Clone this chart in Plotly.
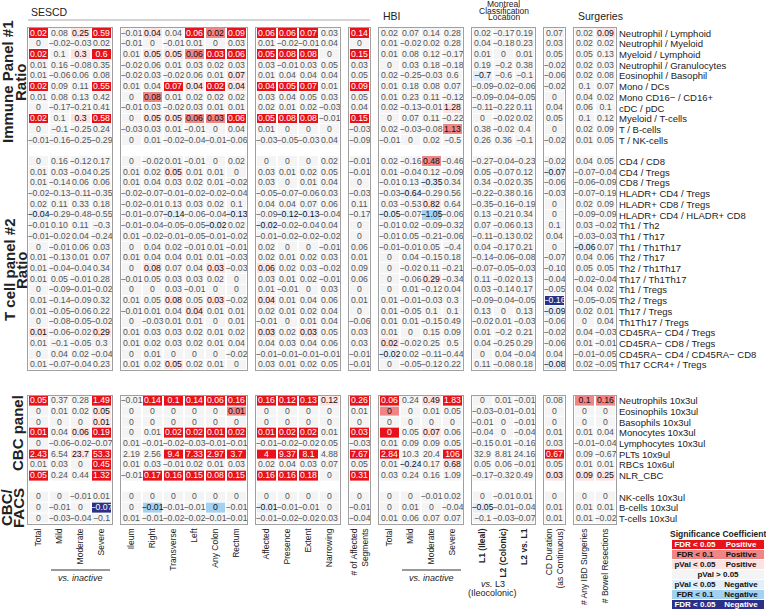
import plotly.graph_objects as go

# ---------------- data ----------------
group_sizes = [4, 6, 4, 1, 4, 3, 1, 2]
col_labels = ["Total", "Mild", "Moderate", "Severe",
              "Ileum", "Right", "Transverse", "Left", "Any Colon", "Rectum",
              "Affected", "Presence", "Extent", "Narrowing",
              "# of Affected<br>Segments",
              "Total", "Mild", "Moderate", "Severe",
              "<b>L1 (Ileal)</b>", "<b>L2 (Colonic)</b>", "<b>L2 vs. L1</b>",
              "CD Duration<br>(as Continuous)",
              "# Any IBD Surgeries", "# Bowel Resections"]

immune_labels = ["Neutrophil / Lymphoid", "Neutrophil / Myeloid", "Myeloid / Lymphoid",
                 "Neutrophil / Granulocytes", "Eosinophil / Basophil", "Mono / DCs",
                 "Mono CD16− / CD16+", "cDC / pDC", "Myeloid / T-cells", "T / B-cells",
                 "T / NK-cells"]
immune_values = [
    "0.02 0.08 0.25 0.59 | -0.01 0.04 0.04 0.06 0.02 0.09 | 0.06 0.06 0.07 0.03 | 0.14 | 0.02 0.07 0.14 0.28 | 0.02 -0.17 0.19 | 0.07 | 0.02 0.09",
    "0 -0.02 -0.03 0.02 | -0.01 0 -0.01 0.01 0 0.03 | 0.01 -0.02 -0.01 0.04 | 0 | 0.01 -0.02 0.02 0.28 | 0.04 -0.18 0.23 | 0.03 | 0.02 0.02",
    "0.02 0.1 0.3 0.6 | 0.01 0.05 0.05 0.06 0.03 0.06 | 0.05 0.08 0.08 0 | 0.15 | 0.01 0.08 0.12 -0.17 | 0.01 0 0.01 | 0.05 | 0.05 0.13",
    "0.01 0.16 -0.08 0.35 | -0.02 0.06 0.01 0.03 0.02 0.03 | 0.03 -0.01 0.03 0.05 | 0.03 | 0 0.03 0.18 -0.18 | 0.19 -0.2 0.38 | -0.02 | 0.02 0.03",
    "0.01 -0.06 0.06 0.08 | -0.02 0.03 -0.02 0.06 0.01 0.07 | 0.01 0.04 0.04 0.04 | 0.05 | 0.02 -0.25 -0.03 0.6 | -0.7 -0.6 -0.1 | -0.06 | 0.02 0.08",
    "0.02 0.09 0.11 0.55 | 0.01 0.04 0.07 0.04 0.02 0.04 | 0.04 0.05 0.07 0.01 | 0.09 | 0.01 0.18 0.08 0.07 | -0.09 -0.02 -0.06 | -0.02 | 0.1 0.07",
    "0.01 0.08 0.13 0.42 | 0 0.08 0.01 0.02 0.02 0.02 | 0.03 0.04 0.05 0.03 | 0.05 | 0.01 0.23 0.11 -0.12 | -0.09 -0.04 -0.05 | 0 | 0.04 0.02",
    "0 -0.17 -0.21 0.41 | -0.01 0.03 -0.02 0.03 0.01 0.01 | 0.02 0.01 0.02 -0.03 | 0.04 | 0.02 -0.13 -0.01 1.28 | -0.11 -0.22 0.11 | 0.04 | 0.06 0.1",
    "0.02 0.1 0.3 0.58 | 0 0.05 0.05 0.06 0.03 0.06 | 0.05 0.08 0.08 -0.01 | 0.15 | 0 0.07 0.11 -0.22 | 0 -0.02 0.02 | 0.05 | 0.1 0.12",
    "0 -0.1 -0.25 0.24 | -0.03 0.03 0.01 -0.01 0 0.04 | 0.01 0 0 0 | -0.03 | 0.02 -0.03 -0.08 1.13 | 0.38 -0.02 0.4 | 0 | 0.02 0.09",
    "-0.01 -0.16 -0.25 -0.29 | 0 0.01 -0.02 -0.04 -0.01 -0.06 | -0.03 -0.05 -0.03 0.04 | -0.09 | -0.01 0 0.02 -0.5 | 0.26 0.36 -0.1 | -0.02 | 0.01 0.05",
]
# significance: F FDR<0.05+, f FDR<0.1+, p pVal<0.05+, . n.s., n pVal<0.05-, b FDR<0.1-, B FDR<0.05-
immune_sig = [
    "F.pF .p.FfF FFF. F .... ... . .p",
    ".... ...... .... . .... ... . ..",
    "F.pF .ppfFF FFF. F .... ... . ..",
    ".... ...... .... . .... ... . ..",
    ".... .....p .... . .... n.. . ..",
    "F..F ..FpFp FFF. F .... ... . ..",
    ".... .f.... .... . .... ... . ..",
    ".... ...... .... . ...p ... . ..",
    "F.pF .ppffF FFF. F .... ... . ..",
    ".... ...... .... . ...f ... . ..",
    ".... ...... .... . .... ... . ..",
]

tcell_labels = ["CD4 / CD8", "CD4 / Tregs", "CD8 / Tregs", "HLADR+ CD4 / Tregs",
                "HLADR+ CD8 / Tregs", "HLADR+ CD4 / HLADR+ CD8", "Th1 / Th2", "Th1 / Th17",
                "Th1 / Th1Th17", "Th2 / Th17", "Th2 / Th1Th17", "Th17 / Th1Th17",
                "Th1 / Tregs", "Th2 / Tregs", "Th17 / Tregs", "Th1Th17 / Tregs",
                "CD45RA− CD4 / Tregs", "CD45RA− CD8 / Tregs", "CD45RA− CD4 / CD45RA− CD8",
                "Th17 CCR4+ / Tregs"]
tcell_values = [
    "0 0.16 -0.12 0.17 | 0 -0.02 0.01 -0.01 0 0.02 | 0 0 0 0.02 | -0.01 | 0.02 -0.16 0.48 -0.46 | -0.27 -0.04 -0.23 | -0.02 | 0.04 0.05",
    "0.01 0.03 -0.04 0.25 | 0.01 0.02 0.05 0.01 0.01 0 | 0.03 0.01 0.02 0.05 | -0.01 | 0.01 -0.04 0.12 -0.09 | 0.05 -0.07 0.12 | -0.07 | -0.07 -0.04",
    "0.01 -0.14 0.06 0.06 | 0.01 0.04 0.03 0.02 0.01 -0.02 | 0.03 0 0.01 0.04 | 0 | -0.01 0.13 -0.35 0.34 | 0.34 -0.02 0.35 | -0.06 | -0.06 -0.09",
    "-0.02 -0.13 -0.11 -0.35 | -0.02 -0.07 -0.01 -0.02 -0.02 -0.04 | -0.05 -0.07 -0.06 0.03 | -0.03 | -0.03 -0.64 -0.29 0.56 | -0.22 -0.38 0.16 | -0.03 | -0.07 -0.19",
    "0.02 0.11 0.33 0.18 | -0.02 -0.01 0.13 0.03 0.02 0.1 | 0.04 0.04 0.07 0.06 | 0.11 | 0.03 -0.53 0.82 0.64 | -0.35 -0.16 -0.19 | 0 | 0.02 0.09",
    "-0.04 -0.29 -0.48 -0.55 | -0.01 -0.07 -0.14 -0.06 -0.04 -0.13 | -0.09 -0.12 -0.13 -0.04 | -0.17 | -0.05 -0.07 -1.05 -0.06 | 0.13 -0.21 0.34 | 0 | -0.09 -0.09",
    "-0.01 0.10 0.11 -0.3 | -0.01 -0.04 -0.05 -0.05 -0.02 0.02 | -0.02 -0.02 -0.04 0.04 | 0 | -0.01 0.02 -0.09 -0.32 | 0.07 -0.06 0.13 | 0.1 | 0.03 -0.02",
    "-0.01 -0.02 0.04 -0.24 | 0.01 -0.02 -0.01 -0.05 -0.01 -0.02 | -0.01 -0.02 -0.02 -0.02 | 0 | -0.01 0.05 -0.21 -0.06 | -0.11 -0.13 0.02 | 0.04 | -0.03 -0.03",
    "0 -0.01 0.06 0.03 | 0 0.04 0.02 -0.01 0.01 -0.01 | 0.02 0 0 -0.01 | 0.06 | -0.01 -0.01 0.05 -0.4 | 0.04 -0.17 0.21 | 0 | -0.06 0.07",
    "0.01 -0.13 0.01 0.07 | 0.01 0.04 0.04 0.01 0.01 -0.03 | 0.02 0.01 0.02 0.03 | 0.01 | 0 0.04 -0.15 0.18 | -0.14 -0.06 -0.08 | -0.07 | 0.04 0.06",
    "0.01 -0.04 -0.04 0.34 | 0 0.08 0.07 0.04 0.03 -0.03 | 0.06 0.02 0.03 -0.02 | 0.09 | 0 -0.02 0.11 -0.21 | -0.07 -0.05 -0.03 | -0.10 | 0.05 0.05",
    "0.01 0.05 -0.01 0.28 | -0.01 0.05 0.03 0.03 0.02 0 | 0.03 0.01 0.02 -0.01 | 0.06 | 0 -0.06 0.29 -0.34 | 0.11 -0.02 0.13 | -0.04 | -0.02 -0.04",
    "0 -0.09 -0.01 -0.02 | 0 0 0.03 -0.01 0 0 | 0.01 -0.01 0 0.03 | 0 | 0 0.01 -0.12 0.04 | 0.03 -0.14 0.17 | -0.05 | 0.04 0.02",
    "0.01 -0.14 -0.09 0.32 | 0.01 0.05 0.08 0.05 0.03 -0.02 | 0.04 0.01 0.04 0.06 | 0.01 | 0.01 -0.01 -0.03 0.3 | -0.09 -0.04 -0.05 | -0.16 | -0.05 -0.05",
    "0.01 -0.05 -0.06 0.22 | -0.01 0.01 0.04 0.04 0.01 0.01 | 0.02 0.01 0.02 0.04 | 0 | 0.01 -0.05 0.1 0.1 | 0.13 0 0.13 | -0.09 | 0.02 0.01",
    "0 -0.08 -0.05 -0.02 | 0 -0.03 0.01 0.01 0 0.01 | -0.01 0 0.01 0.04 | -0.06 | 0.01 0.01 -0.15 0.49 | -0.02 0.01 -0.03 | -0.06 | 0 0.04",
    "0.01 -0.06 -0.02 0.29 | 0.01 0.03 0.03 0.02 0.01 0.02 | 0.03 0.02 0.03 0.05 | 0.03 | 0.01 0 0.15 0.09 | 0.01 -0.2 0.21 | -0.02 | 0.04 -0.03",
    "0.01 -0.1 -0.05 0.3 | 0.01 0.02 0.03 0.02 0.01 0.04 | 0.04 0.03 0.04 0.06 | 0.03 | 0.02 -0.02 0.25 0.5 | 0.04 -0.25 0.29 | -0.06 | 0.01 -0.01",
    "0 0.04 0.02 -0.04 | 0 0.01 0 0 0 -0.02 | -0.01 -0.01 -0.01 -0.01 | -0.01 | -0.02 0.02 -0.11 -0.44 | 0 0.04 -0.04 | 0.04 | -0.01 -0.05",
    "0.01 -0.07 -0.04 0.23 | 0.01 0.02 0.05 0.02 0.01 0 | 0.03 0.01 0.02 0.05 | -0.01 | 0 -0.05 -0.12 0.22 | 0.11 -0.08 0.18 | -0.08 | 0.02 -0.05",
]
tcell_sig = [
    ".... ...... .... . ..f. ... . ..",
    ".... ..p... .... . .... ... n ..",
    ".... ...... .... . ..n. ... . ..",
    ".... ...... .... . .n.. ... . ..",
    ".... ...... .... . ..p. ... . ..",
    "n... ..n..n .nn. . n.b. ... . ..",
    ".... ....n. n... . .... ... . ..",
    ".... ...... .... . .... ... . ..",
    ".... ...... .... . .... ... . n.",
    ".... ...... .... . .... ... . ..",
    ".... .p..p. p... . .... ... . ..",
    ".... ...... .... . ..p. ... . ..",
    ".... ...... .... . .... ... . ..",
    ".... ..p.p. p... . .... ... B ..",
    ".... ...p.. .... . .... ... n ..",
    ".... ...... .... . .... ... . ..",
    "p..p ...... p.p. . .... ... . ..",
    ".... ...... .... . p... ... . ..",
    ".... ...... .... . n... ... . ..",
    ".... ..p... .... . .... ... n ..",
]

cbc_labels = ["Neutrophils 10x3ul", "Eosinophils 10x3ul", "Basophils 10x3ul",
              "Monocytes 10x3ul", "Lymphocytes 10x3ul", "PLTs 10x9ul", "RBCs 10x6ul",
              "NLR_CBC"]
cbc_values = [
    "0.05 0.37 0.28 1.49 | -0.01 0.14 0.1 0.14 0.06 0.16 | 0.16 0.12 0.13 0.12 | 0.26 | 0.06 0.24 0.49 1.83 | 0 0.01 -0.01 | 0.08 | 0.1 0.16",
    "0 0.01 0.02 0.05 | 0 0 0 0 0 0.01 | 0 0 0 0 | 0.01 | 0 0 0.01 0.05 | -0.03 -0.01 -0.01 | 0 | 0 0",
    "0 0 0 0.01 | 0 0 0 0 0 0 | 0 0 0 0 | 0 | 0 0 0 0 | -0.01 0 -0.01 | 0 | 0 0",
    "0.01 0.04 0.06 0.19 | 0 0.01 0.02 0.02 0.01 0.02 | 0.01 0.02 0.02 0.01 | 0.03 | 0 0.05 0.07 0.06 | -0.04 0 -0.04 | 0.01 | 0.01 0.04",
    "0 -0.06 -0.02 -0.07 | 0.01 -0.01 -0.02 -0.03 -0.01 -0.01 | -0.01 -0.02 -0.02 0.05 | -0.03 | 0.01 0.09 0.09 0.05 | -0.15 0.01 -0.16 | 0.03 | -0.01 -0.04",
    "2.43 6.54 23.7 53.3 | 2.19 2.56 9.4 7.33 2.97 3.7 | 4 9.37 8.1 4.88 | 7.67 | 2.84 10.3 20.4 106 | 32.9 8.81 24.16 | 0.67 | 0.09 -0.67",
    "0.01 0.03 0 0.45 | 0.01 0.03 -0.01 0.02 0.01 0.03 | 0.02 0.04 0.03 0.07 | 0.05 | 0.01 -0.24 0.17 0.68 | 0.05 0.06 -0.01 | 0.05 | 0.01 0.01",
    "0.05 0.24 0.44 1.32 | -0.01 0.17 0.16 0.15 0.08 0.15 | 0.16 0.16 0.18 0 | 0.31 | 0.03 0.24 0.16 1.09 | -0.17 -0.32 0.49 | 0.03 | 0.09 0.25",
]
cbc_sig = [
    "F..F .FFFFF FFFp F F.pF ... . ff",
    "...p .....f .... . f... ... . ..",
    "...p ...... .... . .... ... . ..",
    "F.pF ..FFFF FFF. F F.p. ... . ..",
    ".... ...... .... . .... ... . ..",
    "F.pF ..FFFF FFF. F F..F ... F ..",
    "...F ...... .... . .n.p ... . ..",
    "F..F .FFFFF FFF. F .... ... p pp",
]

facs_labels = ["NK-cells 10x3ul", "B-cells 10x3ul", "T-cells 10x3ul"]
facs_values = [
    "0 0 -0.01 0.01 | 0 0 0 0 0 0 | 0 0 0 0 | 0 | 0 0 -0.01 0.02 | 0 -0.01 0.01 | 0 | 0 0",
    "0 -0.01 0 -0.07 | 0 -0.01 -0.01 -0.01 0 -0.01 | -0.01 -0.01 -0.01 0 | -0.01 | 0 0.01 0 -0.04 | -0.05 -0.01 -0.04 | 0.01 | 0.01 0.01",
    "0 -0.03 -0.04 -0.1 | 0.01 -0.01 -0.02 -0.02 -0.01 -0.01 | -0.01 -0.02 -0.02 0.03 | -0.04 | 0.01 0.06 0.07 0.07 | -0.1 -0.03 -0.07 | 0.01 | 0.01 -0.02",
]
facs_sig = [
    ".... ...... .... . .... ... . ..",
    "...B .b..b. n... . .... n.. . ..",
    ".... ...... .... . .... ... . ..",
]

legend_codes = "Ffp.nbB"
legend_left = ["FDR < 0.05", "FDR < 0.1", "pVal < 0.05", "pVal > 0.05", "pVal < 0.05", "FDR < 0.1", "FDR < 0.05"]
legend_right = ["Positive", "Positive", "Positive", "", "Negative", "Negative", "Negative"]

# ---------------- styling ----------------
code_index = {"B": 0, "b": 1, "n": 2, ".": 3, "p": 4, "f": 5, "F": 6}
cell_colors = ["#2b3086", "#a3d1f2", "#e2eef9", "#f4f4f4", "#fde2e2", "#ef8585", "#e8121a"]
colorscale = []
for i, c in enumerate(cell_colors):
    colorscale.append([i / 7, c])
    colorscale.append([(i + 1) / 7, c])


def text_color(k):
    if k in (0, 6):
        return "white"
    if k == 3:
        return "#555555"
    return "#111111"


def parse_values(rows):
    vals, texts = [], []
    for r in rows:
        toks = r.replace("|", " ").split()
        vals.append([float(t) for t in toks])
        texts.append([t.replace("-", "−") for t in toks])
    return vals, texts


def parse_sig(rows):
    return [[code_index[ch] for ch in r.replace(" ", "")] for r in rows]


def build_block(panels):
    vals, texts, codes, labels = [], [], [], []
    for i, (lab, v, s) in enumerate(panels):
        if i > 0:
            vals.append(None); texts.append(None); codes.append(None); labels.append(None)
        pv, pt = parse_values(v)
        vals += pv; texts += pt; codes += parse_sig(s); labels += lab
    return vals, texts, codes, labels


blocks = [
    build_block([(immune_labels, immune_values, immune_sig), (tcell_labels, tcell_values, tcell_sig)]),
    build_block([(cbc_labels, cbc_values, cbc_sig), (facs_labels, facs_values, facs_sig)]),
]

W, H = 766, 616
ML, MR, MT, MB = 28, 2, 28, 2
PW, PH = W - ML - MR, H - MT - MB
CW, GW, RH = 21, 9, 10.7
block_tops = [28, 28 + 32 * RH + 25.2]


def fx(sx):
    return (sx - ML) / PW


def fy(sy):
    return (H - MB - sy) / PH


group_starts = []
acc = 28
for n in group_sizes:
    group_starts.append(acc)
    acc += n * CW + GW

FONT = "Liberation Sans, Arial, sans-serif"
fig = go.Figure()
layout = {}
ax = 0
col0 = 0
col_offsets = []
for n in group_sizes:
    col_offsets.append(col0)
    col0 += n

for b, (vals, texts, codes, labels) in enumerate(blocks):
    nrows = len(vals)
    top = block_tops[b]
    bottom = top + nrows * RH
    for g, n in enumerate(group_sizes):
        ax += 1
        c0 = col_offsets[g]
        z, tx, ty, tt, tc = [], [], [], [], []
        for r in range(nrows):
            if codes[r] is None:
                z.append([None] * n)
                continue
            z.append(codes[r][c0:c0 + n])
            for j in range(n):
                tx.append(j); ty.append(r)
                tt.append(texts[r][c0 + j])
                tc.append(text_color(codes[r][c0 + j]))
        xs = "x" if ax == 1 else f"x{ax}"
        ys = "y" if ax == 1 else f"y{ax}"
        fig.add_trace(go.Heatmap(z=z, x=list(range(n)), y=list(range(nrows)),
                                 colorscale=colorscale, zmin=-0.5, zmax=6.5, showscale=False,
                                 xgap=2, ygap=1, hoverinfo="skip", xaxis=xs, yaxis=ys))
        fig.add_trace(go.Scatter(x=tx, y=ty, text=tt, mode="text", textposition="middle center",
                                 textfont=dict(size=8.7, color=tc, family=FONT),
                                 hoverinfo="skip", showlegend=False, xaxis=xs, yaxis=ys))
        xa = dict(domain=[fx(group_starts[g]), fx(group_starts[g] + n * CW)],
                  range=[-0.5, n - 0.5], anchor=ys, showgrid=False, zeroline=False,
                  showline=True, mirror=True, linecolor="#a0a0a0", linewidth=1.2,
                  ticks="", fixedrange=True)
        if b == 1:
            xa.update(tickvals=list(range(n)), ticktext=col_labels[c0:c0 + n], tickangle=-90,
                      tickfont=dict(size=8.5, color="#222", family=FONT), showticklabels=True)
        else:
            xa.update(showticklabels=False)
        ya = dict(domain=[fy(bottom), fy(top)], range=[nrows - 0.5, -0.5], anchor=xs,
                  showgrid=False, zeroline=False, showline=True, mirror=True,
                  linecolor="#a0a0a0", linewidth=1.2, ticks="", fixedrange=True)
        if g == len(group_sizes) - 1:
            tv = [r for r in range(nrows) if labels[r] is not None]
            ya.update(side="right", tickvals=tv, ticktext=[labels[r] for r in tv],
                      tickfont=dict(size=9.5, color="#222", family=FONT), showticklabels=True)
        else:
            ya.update(showticklabels=False)
        layout["xaxis" if ax == 1 else f"xaxis{ax}"] = xa
        layout["yaxis" if ax == 1 else f"yaxis{ax}"] = ya

# legend as a small heatmap
ax += 1
lz, lx, ly, lt, lc = [], [], [], [], []
for i, ch in enumerate(legend_codes):
    k = code_index[ch]
    lz.append([k, k])
    col = text_color(k) if k != 3 else "#111"
    if legend_right[i]:
        lx += [0, 1]; ly += [i, i]; lt += [legend_left[i], legend_right[i]]; lc += [col, col]
    else:
        lx.append(0.5); ly.append(i); lt.append(legend_left[i]); lc.append(col)
xs, ys = f"x{ax}", f"y{ax}"
fig.add_trace(go.Heatmap(z=lz, x=[0, 1], y=list(range(7)), colorscale=colorscale, zmin=-0.5,
                         zmax=6.5, showscale=False, xgap=0, ygap=1, hoverinfo="skip",
                         xaxis=xs, yaxis=ys))
fig.add_trace(go.Scatter(x=lx, y=ly, text=["<b>%s</b>" % t for t in lt], mode="text",
                         textfont=dict(size=8, color=lc, family=FONT), hoverinfo="skip",
                         showlegend=False, xaxis=xs, yaxis=ys))
LX0, LX1, LY0, LY1 = 672, 764, 540, 610
layout[f"xaxis{ax}"] = dict(domain=[fx(LX0), fx(LX1)], range=[-0.5, 1.5], anchor=ys, visible=False,
                            fixedrange=True)
layout[f"yaxis{ax}"] = dict(domain=[fy(LY1), fy(LY0)], range=[6.5, -0.5], anchor=xs, visible=False,
                            fixedrange=True)

ann = []
shapes = []


def add_text(text, px, py, size, bold=False, angle=0, xanchor="center", italic=False, color="#222"):
    t = text
    if bold:
        t = "<b>%s</b>" % t
    if italic:
        t = "<i>%s</i>" % t
    ann.append(dict(text=t, x=fx(px), y=fy(py), xref="paper", yref="paper", showarrow=False,
                    textangle=angle, xanchor=xanchor, yanchor="middle",
                    font=dict(size=size, color=color, family=FONT)))


def add_line(x0, x1, py, color="#aaaaaa"):
    shapes.append(dict(type="line", xref="paper", yref="paper", x0=fx(x0), x1=fx(x1),
                       y0=fy(py), y1=fy(py), line=dict(color=color, width=1)))


# headers
add_text("SESCD", 29, 12, 10.5, xanchor="left")
add_line(28, group_starts[3] + CW, 20)
add_text("HBI", 381, 16, 10.5, xanchor="left")
mx = group_starts[5] + 3 * CW / 2
add_text("Montreal", mx, 4, 8.5)
add_text("Classification", mx, 10.5, 8.5)
add_text("Location", mx, 17, 8.5)
add_text("Surgeries", group_starts[7] + 2, 16, 10.5, xanchor="left")

# left panel titles
add_text("Immune Panel #1", 7, 82, 15, bold=True, angle=-90)
add_text("Ratio", 20, 82, 15, bold=True, angle=-90)
add_text("T cell panel #2", 9, 270, 15, bold=True, angle=-90)
add_text("Ratio", 21, 270, 15, bold=True, angle=-90)
add_text("CBC panel", 17, 433, 15, bold=True, angle=-90)
add_text("CBC/", 6, 508, 15, bold=True, angle=-90)
add_text("FACS", 18, 508, 15, bold=True, angle=-90)

# bottom notes
for g in (0, 4):
    x0 = group_starts[g] + CW
    x1 = group_starts[g] + 4 * CW
    add_line(x0 + 2, x1 - 2, 570, color="#333")
    add_text("vs. inactive", (x0 + x1) / 2, 578, 9, italic=True)
x0 = group_starts[5]
x1 = group_starts[5] + 2 * CW
add_text("<i>vs.</i> L3", (x0 + x1) / 2, 584, 9)
add_text("(Ileocolonic)", (x0 + x1) / 2, 593, 9)

# legend title
ann.append(dict(text="<b>Significance Coefficient</b>", x=fx((LX0 + LX1) / 2), y=fy(LY0 - 6),
                xref="paper", yref="paper", showarrow=False, xanchor="center", yanchor="middle",
                font=dict(size=8.5, color="#222", family=FONT)))

fig.update_layout(width=W, height=H, margin=dict(l=ML, r=MR, t=MT, b=MB),
                  paper_bgcolor="white", plot_bgcolor="white", showlegend=False,
                  annotations=ann, shapes=shapes, font=dict(family=FONT), **layout)

# remove the default 8px page margin so the figure sits at the window origin
fig.write_html("out.html", config={"displayModeBar": False},
               post_script="document.body.style.margin='0px';")
